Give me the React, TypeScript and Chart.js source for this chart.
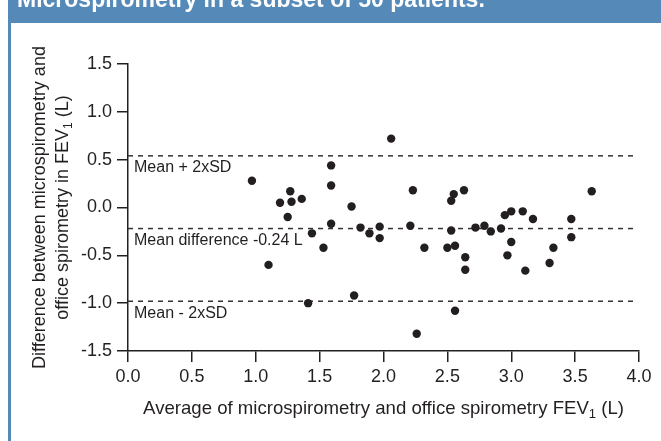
import React, { useEffect, useRef } from "react";
import { Chart, registerables } from "chart.js";

Chart.register(...registerables);

// Bland-Altman data: average (x) and difference (y), litres
const avgValues = [
  0.97, 1.27, 1.19, 1.28, 1.36, 1.25, 1.59, 1.59, 1.75, 1.59,
  1.44, 1.53, 1.10, 1.41, 1.77, 1.82, 2.06, 2.23, 2.55, 2.53,
  2.63, 1.89, 1.97, 1.97, 2.21, 2.32, 2.26, 2.50, 2.56, 2.53,
  2.64, 2.64, 2.56, 2.72, 2.79, 2.84, 2.92, 2.95, 3.00, 3.09,
  3.17, 3.00, 2.97, 3.11, 3.33, 3.30, 3.47, 3.47, 3.63,
];
const diffValues = [
  0.28, 0.17, 0.05, 0.06, 0.09, -0.10, 0.44, 0.23, 0.01, -0.17,
  -0.27, -0.42, -0.60, -1.00, -0.92, -0.21, 0.72, 0.18, 0.14, 0.07,
  0.18, -0.27, -0.20, -0.32, -0.19, -0.42, -1.32, -0.42, -0.40, -0.24,
  -0.52, -0.65, -1.08, -0.21, -0.19, -0.25, -0.22, -0.08, -0.04, -0.04,
  -0.12, -0.36, -0.50, -0.66, -0.42, -0.58, -0.12, -0.31, 0.17,
];

const limitValues = [0.54, -0.22, -0.98];
const limitLabels = ["Mean + 2xSD", "Mean difference -0.24 L", "Mean - 2xSD"];
const limitXRange = [0, 3.97];

const xTickValues = [0, 0.5, 1, 1.5, 2, 2.5, 3, 3.5, 4];
const yTickValues = [-1.5, -1, -0.5, 0, 0.5, 1, 1.5];

const headerText = "Microspirometry in a subset of 50 patients.";
const yTitleLine1 = "Difference between microspirometry and";
const yTitleLine2 = ["office spirometry in FEV", "1", " (L)"];
const xTitle = ["Average of microspirometry and office spirometry FEV", "1", " (L)"];

const FONT = "'Liberation Sans', Arial, sans-serif";
const INK = "#231f20";
const BLUE = "#5589b8";

function drawSubText(ctx: CanvasRenderingContext2D, parts: string[], cx: number, y: number, size: number) {
  const big = `${size}px ${FONT}`;
  const small = `${Math.round(size * 0.68)}px ${FONT}`;
  ctx.font = big;
  const w0 = ctx.measureText(parts[0]).width;
  const w2 = ctx.measureText(parts[2]).width;
  ctx.font = small;
  const w1 = ctx.measureText(parts[1]).width;
  let x = cx - (w0 + w1 + w2) / 2;
  ctx.textAlign = "left";
  ctx.textBaseline = "alphabetic";
  ctx.font = big;
  ctx.fillText(parts[0], x, y);
  x += w0;
  ctx.font = small;
  ctx.fillText(parts[1], x, y + size * 0.22);
  x += w1;
  ctx.font = big;
  ctx.fillText(parts[2], x, y);
}

const decorPlugin = {
  id: "decor",
  beforeDraw(chart: any) {
    const ctx = chart.ctx as CanvasRenderingContext2D;
    ctx.save();
    ctx.fillStyle = "#ffffff";
    ctx.fillRect(0, 0, chart.width, chart.height);
    ctx.fillStyle = BLUE;
    ctx.fillRect(8, 0, chart.width - 8, 23);
    ctx.fillRect(8, 23, 3, chart.height - 23);
    ctx.fillStyle = "#ffffff";
    ctx.font = `bold 23px ${FONT}`;
    ctx.textAlign = "left";
    ctx.textBaseline = "alphabetic";
    ctx.fillText(headerText, 17, 7);
    ctx.restore();
  },
  afterDraw(chart: any) {
    const ctx = chart.ctx as CanvasRenderingContext2D;
    const area = chart.chartArea;
    const ys = chart.scales.y;
    ctx.save();
    ctx.fillStyle = INK;
    // limit labels
    ctx.font = `16px ${FONT}`;
    ctx.textAlign = "left";
    ctx.textBaseline = "middle";
    limitValues.forEach((v, i) => {
      ctx.fillText(limitLabels[i], area.left + 6, ys.getPixelForValue(v) + 12);
    });
    // x title
    drawSubText(ctx, xTitle, (area.left + area.right) / 2, 414, 18.6);
    // y title
    const cy = (area.top + area.bottom) / 2;
    ctx.save();
    ctx.translate(45, cy);
    ctx.rotate(-Math.PI / 2);
    ctx.font = `18px ${FONT}`;
    ctx.textAlign = "center";
    ctx.textBaseline = "alphabetic";
    ctx.fillText(yTitleLine1, 0, 0);
    ctx.restore();
    ctx.save();
    ctx.translate(68, cy);
    ctx.rotate(-Math.PI / 2);
    drawSubText(ctx, yTitleLine2, 0, 0, 18);
    ctx.restore();
    ctx.restore();
  },
};

export default function App() {
  const canvasRef = useRef<HTMLCanvasElement | null>(null);

  useEffect(() => {
    document.body.style.margin = "0";
    const canvas = canvasRef.current;
    if (!canvas) return;
    const points = avgValues.map((x, i) => ({ x, y: diffValues[i] }));
    const limitSets = limitValues.map((v) => ({
      type: "line" as const,
      data: limitXRange.map((x) => ({ x, y: v })),
      borderColor: "#333333",
      borderWidth: 1.5,
      borderDash: [5, 5],
      pointRadius: 0,
      fill: false,
      order: 1,
    }));
    const chart = new Chart(canvas, {
      type: "scatter",
      data: {
        datasets: [
          ...limitSets,
          {
            type: "scatter" as const,
            data: points,
            backgroundColor: INK,
            borderColor: INK,
            borderWidth: 0,
            pointRadius: 4.2,
            order: 0,
          },
        ] as any,
      },
      options: {
        animation: false,
        responsive: true,
        maintainAspectRatio: false,
        devicePixelRatio: 1,
        layout: { padding: { top: 64, right: 22, left: 0, bottom: 0 } },
        plugins: { legend: { display: false }, tooltip: { enabled: false } },
        scales: {
          x: {
            type: "linear",
            min: 0,
            max: 4,
            afterBuildTicks: (s: any) => {
              s.ticks = xTickValues.map((v) => ({ value: v }));
            },
            ticks: {
              callback: (v: any) => Number(v).toFixed(1),
              font: { family: FONT, size: 18 },
              color: INK,
              padding: 4,
              maxRotation: 0,
            },
            grid: { display: true, drawOnChartArea: false, drawTicks: true, tickLength: 11, color: INK, lineWidth: 1.5 },
            border: { display: true, color: INK, width: 1.5 },
            afterFit: (s: any) => {
              s.height = 90;
            },
          },
          y: {
            type: "linear",
            min: -1.5,
            max: 1.5,
            afterBuildTicks: (s: any) => {
              s.ticks = yTickValues.map((v) => ({ value: v }));
            },
            ticks: {
              callback: (v: any) => Number(v).toFixed(1),
              font: { family: FONT, size: 18 },
              color: INK,
              padding: 5,
            },
            grid: { display: true, drawOnChartArea: false, drawTicks: true, tickLength: 11, color: INK, lineWidth: 1.5 },
            border: { display: true, color: INK, width: 1.5 },
            afterFit: (s: any) => {
              s.width = 128;
            },
          },
        },
      } as any,
      plugins: [decorPlugin],
    });
    return () => chart.destroy();
  }, []);

  return (
    <div style={{ position: "relative", width: 661, height: 441 }}>
      <canvas ref={canvasRef} />
    </div>
  );
}
